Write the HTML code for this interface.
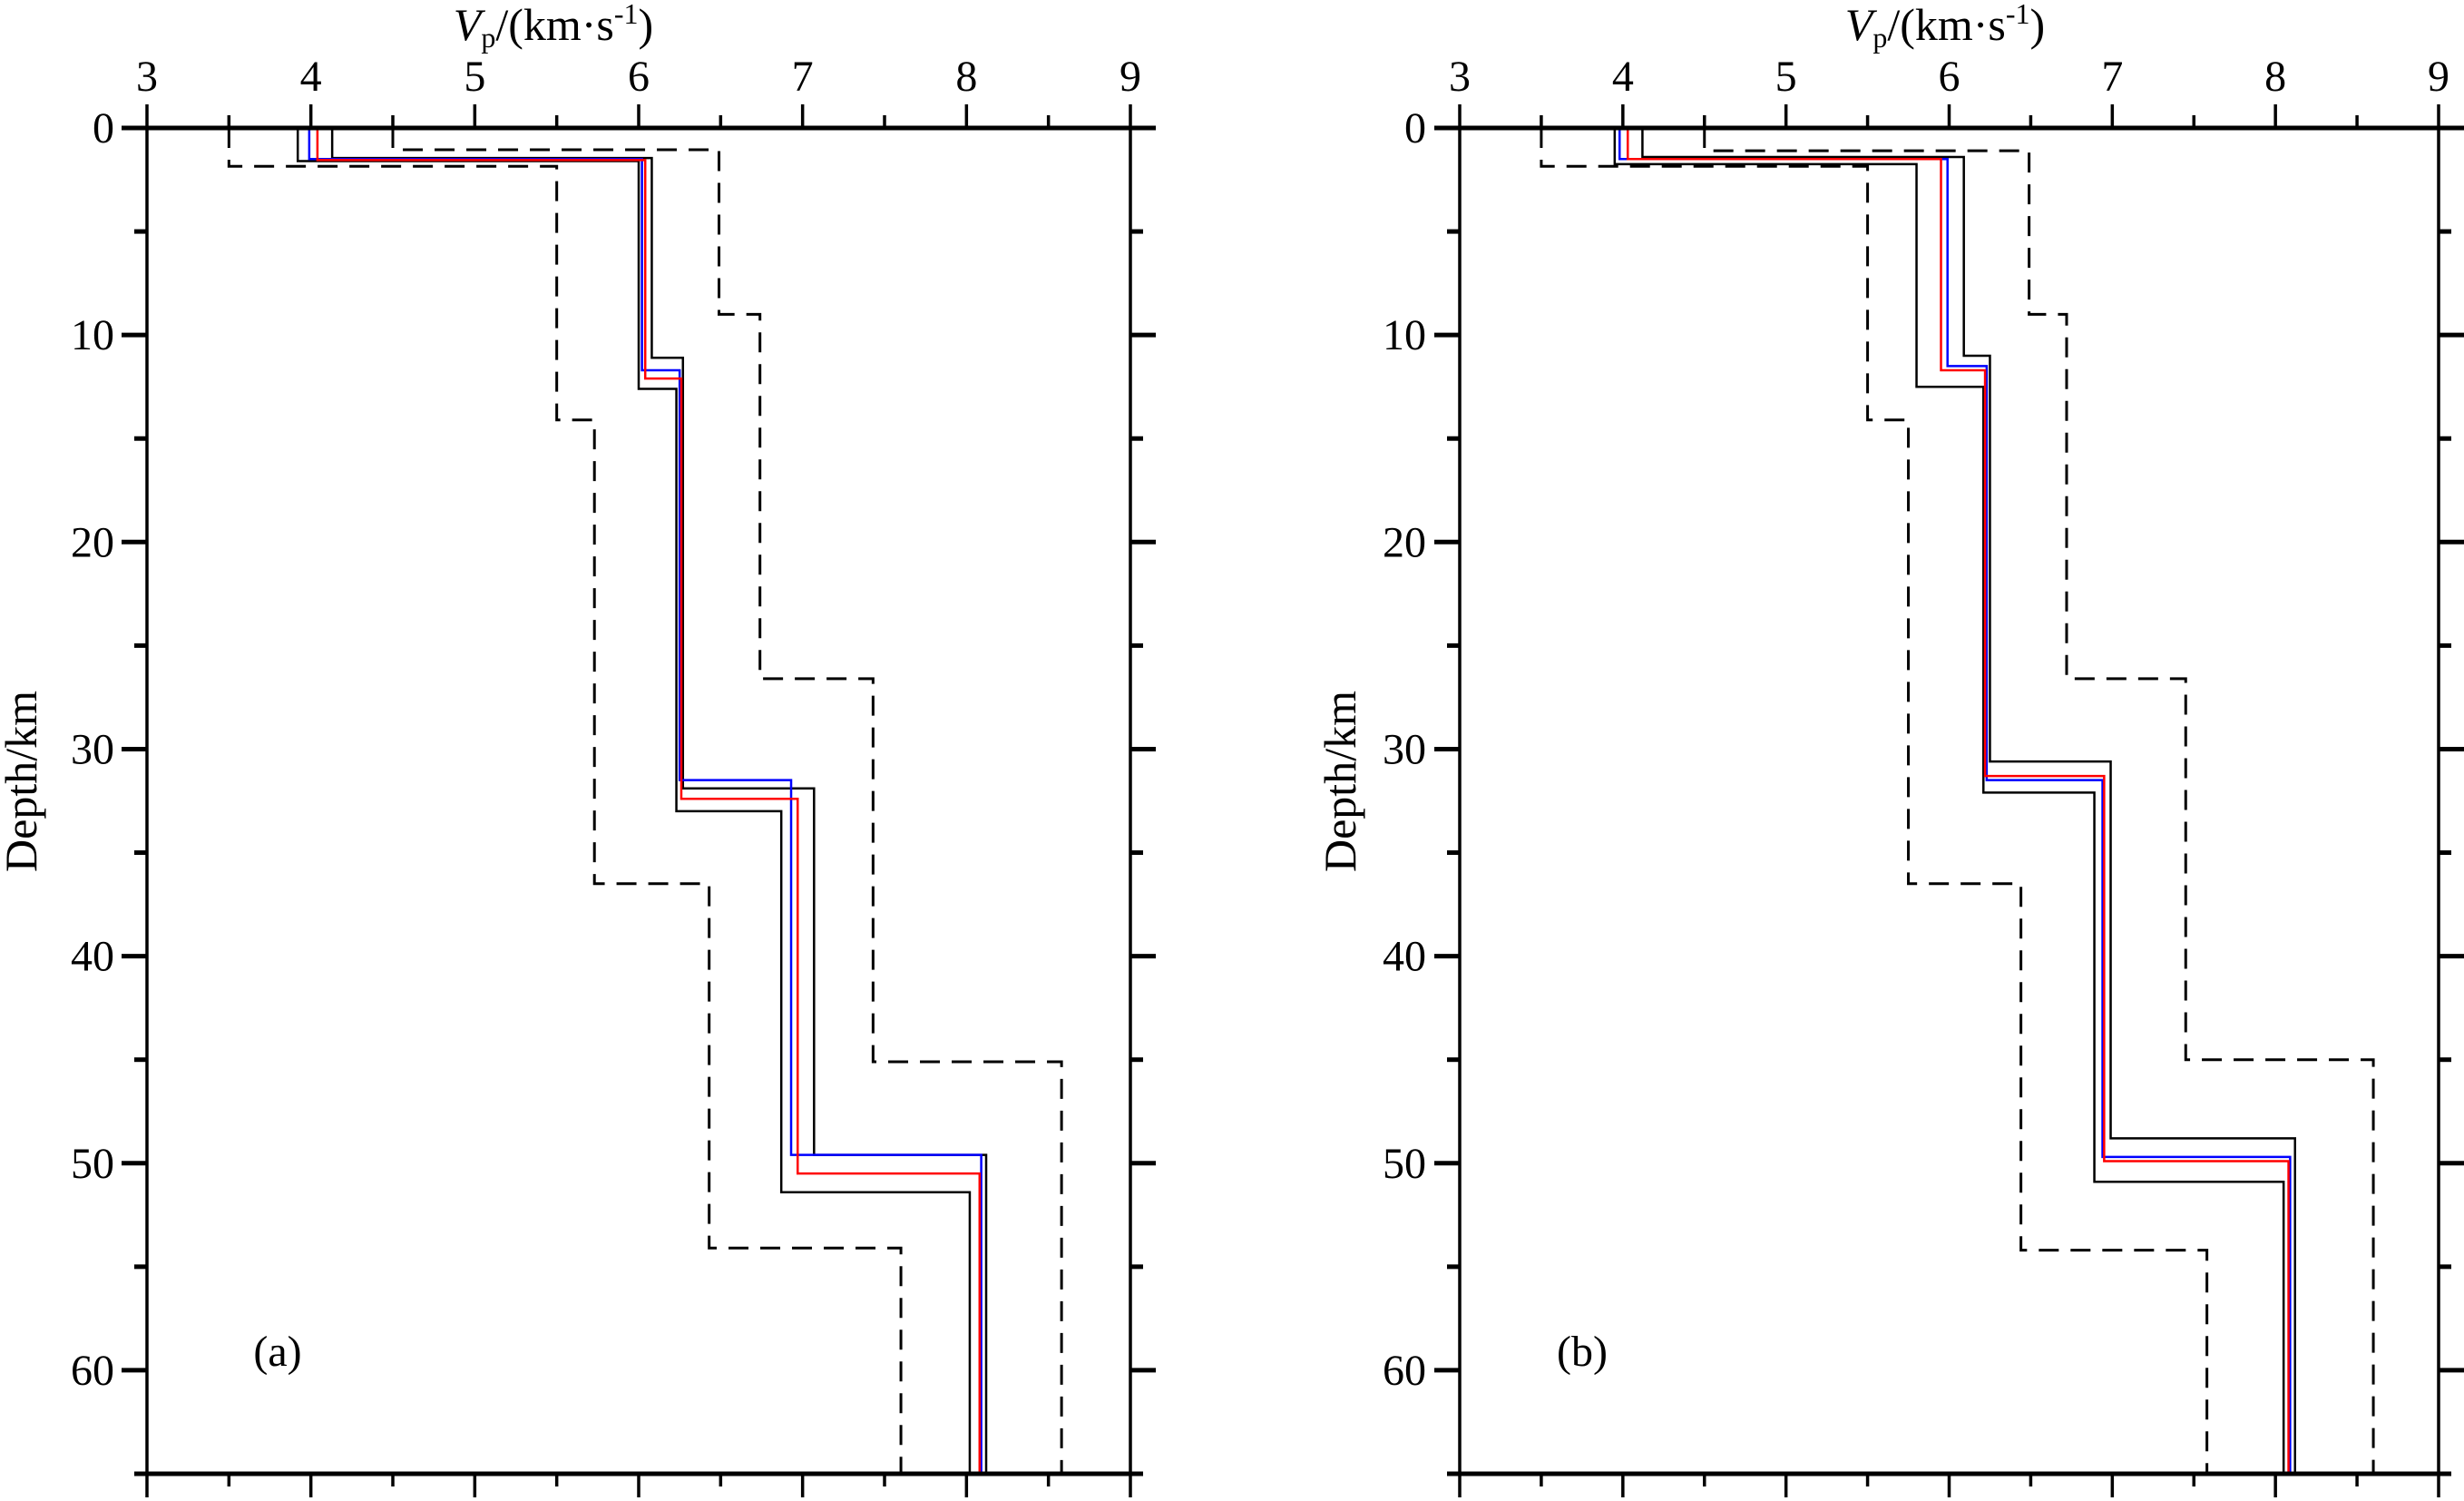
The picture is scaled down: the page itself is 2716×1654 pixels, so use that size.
<!DOCTYPE html>
<html><head><meta charset="utf-8">
<style>
html,body{margin:0;padding:0;background:#fff;}
svg{display:block;}
text{font-family:"Liberation Serif","DejaVu Serif",serif;fill:#000;}
</style></head>
<body>
<svg id="chart" width="2716" height="1654" viewBox="0 0 2716 1654" xmlns="http://www.w3.org/2000/svg"></svg>
<script>
// ---- data (velocity km/s per layer, layer bottom depths km) ----
const xTicks = [3,4,5,6,7,8,9];
const yTicks = [0,10,20,30,40,50,60];
const panelLabels = ["(a)","(b)"];
// Panel a
const aDashLeftV = [3.5,5.5,5.73,6.43,7.6];
const aDashLeftD = [1.85,14.1,36.5,54.1,65];
const aDashRightV = [4.5,6.49,6.74,7.43,8.58];
const aDashRightD = [1.05,9.0,26.6,45.1,65];
const aBlackLeftV = [3.92,6.0,6.23,6.87,8.02];
const aBlackLeftD = [1.6,12.6,33.0,51.4,65];
const aBlackRightV = [4.13,6.08,6.27,7.07,8.12];
const aBlackRightD = [1.45,11.1,31.9,49.6,65];
const aBlueV = [3.99,6.02,6.25,6.93,8.09];
const aBlueD = [1.5,11.7,31.5,49.6,65];
const aRedV = [4.04,6.04,6.26,6.97,8.08];
const aRedD = [1.55,12.1,32.4,50.5,65];
// Panel b
const bDashLeftV = [3.5,5.5,5.75,6.44,7.58];
const bDashLeftD = [1.85,14.1,36.5,54.2,65];
const bDashRightV = [4.5,6.49,6.72,7.45,8.6];
const bDashRightD = [1.1,9.0,26.6,45.0,65];
const bBlackLeftV = [3.95,5.8,6.21,6.89,8.05];
const bBlackLeftD = [1.75,12.5,32.1,50.9,65];
const bBlackRightV = [4.12,6.09,6.25,6.99,8.12];
const bBlackRightD = [1.4,11.0,30.6,48.8,65];
const bBlueV = [3.98,5.99,6.23,6.94,8.09];
const bBlueD = [1.5,11.5,31.5,49.7,65];
const bRedV = [4.03,5.95,6.22,6.95,8.08];
const bRedD = [1.5,11.7,31.3,49.9,65];

const svg = document.getElementById('chart');
const NS = 'http://www.w3.org/2000/svg';
function mk(tag, attrs, parent){const e=document.createElementNS(NS,tag);for(const k in attrs)e.setAttribute(k,attrs[k]);(parent||svg).appendChild(e);return e;}

const panels = [
  {x0:162, x1:1246, lblRight:126, tickL:133, titleX:610, depthX:24, tagX:306,
   series:[[aDashLeftV,aDashLeftD,'dash','dashed-lower-bound'],[aDashRightV,aDashRightD,'dash','dashed-upper-bound'],
           [aBlackLeftV,aBlackLeftD,'#000','black-lower-model'],[aBlackRightV,aBlackRightD,'#000','black-upper-model'],
           [aBlueV,aBlueD,'#0000ff','blue-model'],[aRedV,aRedD,'#ff0000','red-model']]},
  {x0:1609, x1:2688, lblRight:1572, tickL:1581, titleX:2144, depthX:1478, tagX:1744,
   series:[[bDashLeftV,bDashLeftD,'dash','dashed-lower-bound'],[bDashRightV,bDashRightD,'dash','dashed-upper-bound'],
           [bBlackLeftV,bBlackLeftD,'#000','black-lower-model'],[bBlackRightV,bBlackRightD,'#000','black-upper-model'],
           [bBlueV,bBlueD,'#0000ff','blue-model'],[bRedV,bRedD,'#ff0000','red-model']]}
];
const Y0 = 141, Y1 = 1624;
panels.forEach((p, i) => {
  const g = mk('g', {});
  
  
  const xs = v => p.x0 + (v - 3) / 6 * (p.x1 - p.x0);
  const ys = d => Y0 + d / 65 * (Y1 - Y0);
  // series
  p.series.forEach(s => {
    const [V, D, col, name] = s;
    let pts = [], prev = 0;
    for (let k = 0; k < V.length; k++) {
      pts.push(xs(V[k]) + ',' + ys(prev));
      pts.push(xs(V[k]) + ',' + ys(D[k]));
      prev = D[k];
    }
    const isDash = col === 'dash';
    const pl = mk('polyline', {points: pts.join(' '), fill: 'none', stroke: isDash ? '#000' : col,
      'stroke-width': isDash ? 3 : 2.5, 'stroke-dasharray': isDash ? '22,13' : 'none'}, g);
    
    
  });
  // frame
  const fr = mk('g', {}, g);
  
  
  mk('line', {x1:p.x0-2, y1:Y0, x2:p.x1+2, y2:Y0, stroke:'#000','stroke-width':5}, fr);
  mk('line', {x1:p.x0-2, y1:Y1, x2:p.x1+2, y2:Y1, stroke:'#000','stroke-width':5}, fr);
  mk('line', {x1:p.x0, y1:Y0, x2:p.x0, y2:Y1, stroke:'#000','stroke-width':3.5}, fr);
  mk('line', {x1:p.x1, y1:Y0, x2:p.x1, y2:Y1, stroke:'#000','stroke-width':3.5}, fr);
  // x ticks
  for (let v = 3; v <= 9.001; v += 0.5) {
    const major = Math.abs(v - Math.round(v)) < 1e-6;
    const L = major ? 26 : 14;
    mk('line', {x1:xs(v), y1:Y0, x2:xs(v), y2:Y0-L, stroke:'#000','stroke-width':3.5}, fr);
    mk('line', {x1:xs(v), y1:Y1, x2:xs(v), y2:Y1+L, stroke:'#000','stroke-width':3.5}, fr);
  }
  xTicks.forEach(v => {
    const t = mk('text', {x:xs(v), y:100, 'font-size':48, 'text-anchor':'middle'}, g);
    t.textContent = v;
    
    
  });
  // y ticks
  for (let d = 0; d <= 65; d += 5) {
    const major = d % 10 === 0;
    const L = major ? 28 : 14;
    mk('line', {x1:p.x0, y1:ys(d), x2:p.x0-L, y2:ys(d), stroke:'#000','stroke-width':5}, fr);
    mk('line', {x1:p.x1, y1:ys(d), x2:p.x1+L, y2:ys(d), stroke:'#000','stroke-width':5}, fr);
  }
  yTicks.forEach(d => {
    const t = mk('text', {x:p.lblRight, y:ys(d)+16, 'font-size':48, 'text-anchor':'end'}, g);
    t.textContent = d;
    
    
  });
  // x title
  const tt = mk('text', {x:p.titleX, y:44, 'font-size':50, 'text-anchor':'middle'}, g);
  tt.innerHTML = '<tspan font-style="italic">V</tspan><tspan font-size="32" dy="8">p</tspan><tspan dy="-8">/(km·s</tspan><tspan font-size="32" dy="-18">-1</tspan><tspan dy="18">)</tspan>';
  
  
  // y title
  const yt = mk('text', {x:p.depthX, y:845, 'font-size':50, 'text-anchor':'middle', transform:'rotate(-90 '+(p.depthX+16)+' 845)'}, g);
  yt.textContent = 'Depth/km';
  
  
  // panel tag
  const pt = mk('text', {x:p.tagX, y:1505, 'font-size':48, 'text-anchor':'middle'}, g);
  pt.textContent = panelLabels[i];
  
  
});
</script>
</body></html>
